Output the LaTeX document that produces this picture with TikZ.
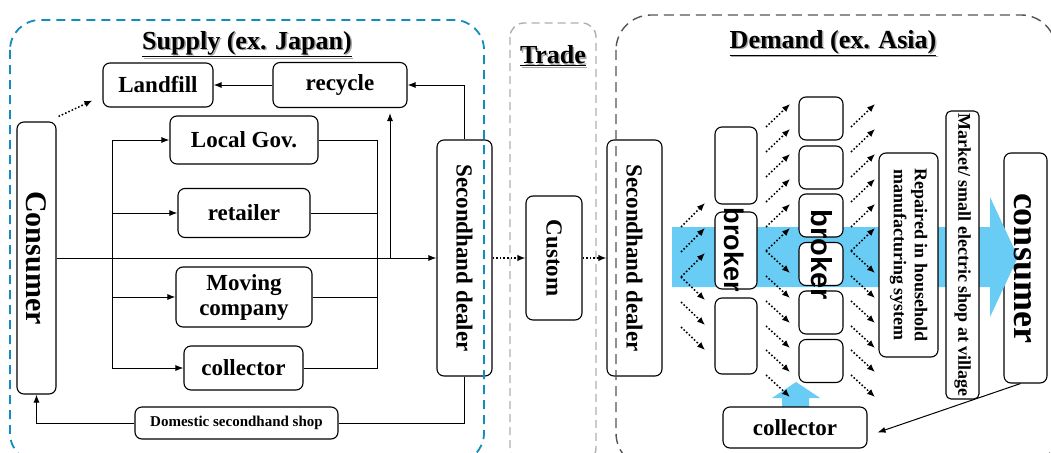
\documentclass[tikz,border=0pt]{standalone}
\usepackage{fontspec}
\setmainfont{Liberation Serif}
\newfontfamily\sansb{Liberation Sans}
\usetikzlibrary{arrows.meta,calc}
\definecolor{supblue}{RGB}{20,140,190}
\definecolor{bandblue}{RGB}{104,204,244}
\definecolor{trgray}{RGB}{175,175,175}
\definecolor{dmgray}{RGB}{85,85,85}
\newcommand{\fsz}[1]{\fontsize{#1}{#1}\selectfont}
\begin{document}
\begin{tikzpicture}[x=1pt,y=-1pt,
 box/.style={draw, rounded corners=7pt, fill=white, line width=1.1pt, inner sep=0pt, font=\bfseries\fsz{23}, align=center},
 arr/.style={line width=1pt, -{Latex[length=8pt,width=6pt]}},
 ln/.style={line width=1pt},
 dotarr/.style={line width=1.5pt, dash pattern=on 1.6pt off 2pt, -{Latex[length=8pt,width=6.5pt]}},
 ttl/.style={font=\bfseries\fsz{26}, inner sep=0pt},
 shd/.style={ttl, text=black!35}]
\useasboundingbox (0,0) rectangle (1051,452);
\clip (0,0) rectangle (1051,452);

% ---------- titles ----------
\node[shd] (tSs) at (248.5,45.5) {\underline{Supply (ex. Japan)}};
\node[ttl] (tS) at (247,44) {\underline{Supply (ex. Japan)}};
\node[shd] (tTs) at (554.5,57.5) {\underline{Trade}};
\node[ttl] (tT) at (553,56) {\underline{Trade}};
\node[shd] (tDs) at (834.5,44.5) {\underline{Demand (ex. Asia)}};
\node[ttl] (tD) at (833,43) {\underline{Demand (ex. Asia)}};

% ---------- supply ----------
\node[box, minimum width=39, minimum height=272] (cons) at (36.5,258) {\rotatebox{-90}{\fsz{30}Consumer}};
\node[box, minimum width=110, minimum height=44] (landfill) at (158,85) {Landfill};
\node[box, minimum width=134, minimum height=45] (recycle) at (340,85) {recycle};
\node[box, minimum width=148, minimum height=48] (localgov) at (244,140) {Local Gov.};
\node[box, minimum width=132, minimum height=49] (retailer) at (244,213) {retailer};
\node[box, minimum width=136, minimum height=60, font=\bfseries\fontsize{23}{25}\selectfont] (moving) at (244,297) {Moving\\company};
\node[box, minimum width=119, minimum height=44] (collS) at (243.5,368) {collector};
\node[box, minimum width=203, minimum height=32, font=\bfseries\fsz{15}] (domestic) at (236.5,423) {Domestic secondhand shop};
\node[box, minimum width=55, minimum height=236] (sdS) at (464.5,258) {\rotatebox{-90}{\fsz{23}Secondhand dealer}};

\coordinate (jL) at (112,258);
\coordinate (jR) at (377,258);
\coordinate (jU) at (390,258);
\draw[arr] (cons) -- (sdS);
\foreach \b in {localgov,retailer,moving,collS}{
  \draw[arr] (jL) |- (\b);
  \draw[ln] (\b) -| (jR);
}
\draw[arr, shorten >=5pt] (jU) -- (jU |- recycle.south);
\draw[arr] (recycle) -- (landfill);
\draw[arr] (sdS.north) |- (recycle.east);
\draw[ln] (sdS.south) |- (domestic.east);
\draw[arr] (domestic.west) -| (cons.south);
\draw[dotarr] ([shift={(2,-5)}]cons.north east) -- ([shift={(-10,-7)}]landfill.south west);

% ---------- trade ----------
\node[box, minimum width=56, minimum height=124] (custom) at (554,258) {\rotatebox{-90}{\fsz{23}Custom}};

% ---------- demand ----------
\node[box, minimum width=43, minimum height=230] (consD) at (1025.5,268) {};
\fill[bandblue] (672,227) -- (990,227) -- (990,197) -- (1018,257) -- (990,317) -- (990,287) -- (672,287) -- cycle;
\fill[bandblue] (782,407) -- (782,398) -- (772,398) -- (796,382) -- (820,398) -- (809,398) -- (809,407) -- cycle;

\node[box, minimum width=55, minimum height=236] (sdD) at (634.5,258) {\rotatebox{-90}{\fsz{23}Secondhand dealer}};
\draw[dotarr] (sdS) -- (custom);
\draw[dotarr] (custom) -- (sdD);

\foreach \y in {227,252,277} \draw[dotarr] (681,\y) -- ++(24,-24);
\foreach \y in {277,302,327} \draw[dotarr] (681,\y) -- ++(24,23);
\foreach \x in {766,851}{
  \foreach \y in {127,152,177,202,227,251} \draw[dotarr] (\x,\y) -- ++(24,-23);
  \foreach \y in {251,276,301,326,350,375} \draw[dotarr] (\x,\y) -- ++(24,22);
}

\node[box, minimum width=42, minimum height=77] (b1a) at (736,165.5) {};
\node[box, minimum width=42, minimum height=77] (b1b) at (736,250.5) {};
\node[box, minimum width=42, minimum height=76] (b1c) at (736,336) {};
\foreach \i/\yy in {1/118.5,2/167.5,3/215.5,4/264,5/312.5,6/361}
  \node[box, minimum width=44, minimum height=43] (b2\i) at (821,\yy) {};
\node[inner sep=0pt, font=\sansb\bfseries\fsz{27}] (brk1) at (734,250) {\rotatebox{-90}{broker}};
\node[inner sep=0pt, font=\sansb\bfseries\fsz{29}] (brk2) at (822,255) {\rotatebox{-90}{broker}};

\node[box, minimum width=59, minimum height=204] (repair) at (908.5,255) {\rotatebox{-90}{\fontsize{18}{21}\selectfont\begin{tabular}{@{}c@{}}Repaired in household\\manufacturing system\end{tabular}}};
\node[box, rounded corners=5pt, minimum width=33, minimum height=288] (market) at (962.5,255) {\rotatebox{-90}{\fsz{18}Market/ small electric shop at village}};
\node[inner sep=0pt, font=\bfseries\fsz{36}] (consDt) at (1023,268) {\rotatebox{-90}{consumer}};

\node[box, minimum width=144, minimum height=41] (collD) at (795,427.5) {collector};
\draw[arr] ([xshift=-5pt]consD.south) -- ([shift={(10,5)}]collD.east);

% ---------- frames ----------
\draw[supblue, line width=1.8pt, dash pattern=on 9pt off 6pt, rounded corners=30pt] (10,20) rectangle (484,463);
\draw[trgray, line width=1.4pt, dash pattern=on 8pt off 5pt, rounded corners=14pt] (510,23) rectangle (596,462);
\draw[dmgray, line width=1.4pt, dash pattern=on 10pt off 6pt, rounded corners=35pt] (616,15) rectangle (1056,468);
\end{tikzpicture}
\end{document}
